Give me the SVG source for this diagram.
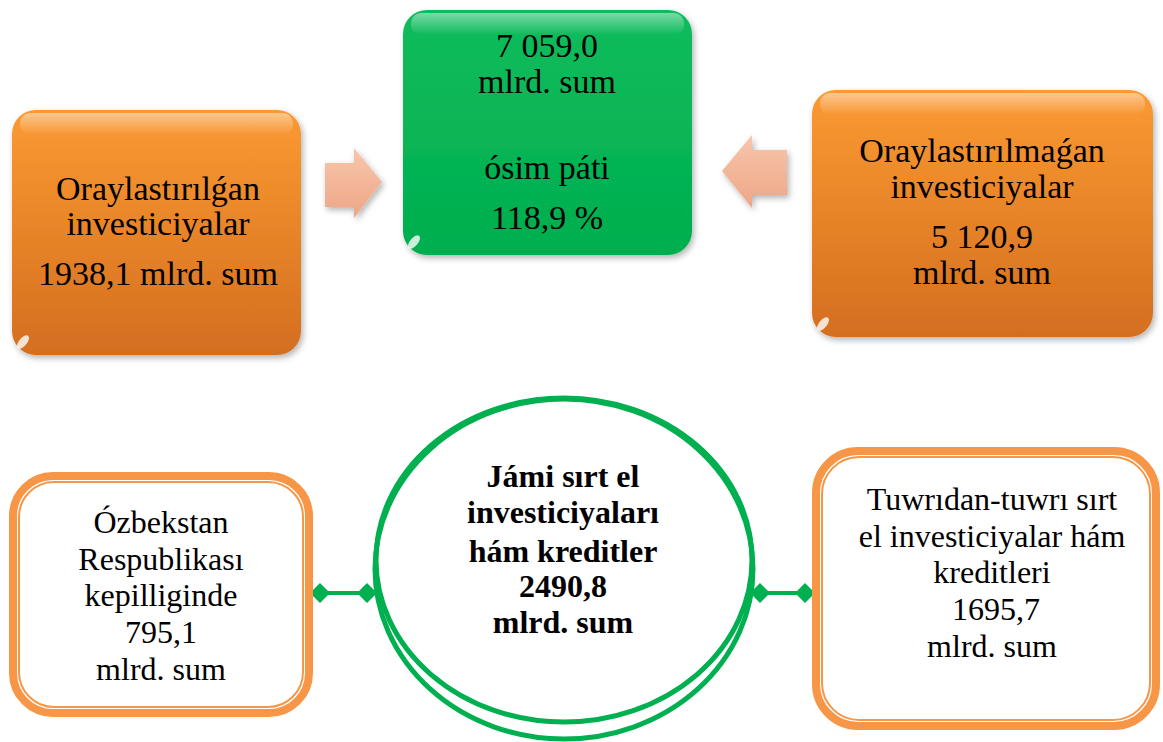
<svg xmlns="http://www.w3.org/2000/svg" width="1163" height="742" viewBox="0 0 1163 742">
<defs>
<linearGradient id="gOr" x1="0" y1="0" x2="0" y2="1">
<stop offset="0" stop-color="#FB9A32"/>
<stop offset="1" stop-color="#D46E1F"/>
</linearGradient>
<linearGradient id="gGr" x1="0" y1="0" x2="0" y2="1">
<stop offset="0" stop-color="#10BC5C"/>
<stop offset="1" stop-color="#00AE4E"/>
</linearGradient>
<linearGradient id="gAr" x1="0" y1="0" x2="0" y2="1">
<stop offset="0" stop-color="#F8C6AC"/>
<stop offset="1" stop-color="#EDA686"/>
</linearGradient>
<linearGradient id="gGloss" x1="0" y1="0" x2="0" y2="1">
<stop offset="0" stop-color="#ffffff" stop-opacity="0.45"/>
<stop offset="1" stop-color="#ffffff" stop-opacity="0"/>
</linearGradient>
<filter id="sh" x="-10%" y="-10%" width="125%" height="125%">
<feDropShadow dx="2" dy="3" stdDeviation="3" flood-color="#000" flood-opacity="0.3"/>
</filter>
<marker id="dm" viewBox="0 0 20 20" refX="10" refY="10" markerWidth="5" markerHeight="5" orient="auto" markerUnits="strokeWidth">
<path d="M0 10 L10 0 L20 10 L10 20 Z" fill="#00B050"/>
</marker>
<style>
text{font-family:"Liberation Serif","Times New Roman",serif;fill:#000;text-anchor:middle}
.t34{font-size:34px}
.t32{font-size:32px}
.b32{font-size:32px;font-weight:bold}
.ob{fill:url(#gOr);filter:url(#sh)}
.gloss{fill:url(#gGloss)}
.glint{fill:#fff;opacity:0.8}
.frame{fill:#fff;stroke:#F79646;stroke-width:8}
.frame2{fill:none;stroke:#F79646;stroke-width:2}
.conn{stroke:#00B050;stroke-width:4;fill:none}
.ring{fill:none;stroke:#00B050;stroke-width:5}
.arr{fill:url(#gAr);filter:url(#sh)}
</style>
</defs>

<g id="connectors">
<polygon class="arr" points="325,163 354,163 354,148 382,182 354,218 354,207 325,207"/>
<polygon class="arr" points="787,150 752,150 752,135 722,171 752,208 752,195 787,195"/>
<line class="conn" x1="320" y1="593" x2="367" y2="593" marker-start="url(#dm)" marker-end="url(#dm)"/>
<line class="conn" x1="760" y1="593" x2="805" y2="593" marker-start="url(#dm)" marker-end="url(#dm)"/>
</g>

<g id="node-left-top">
<rect class="ob" x="12" y="110" width="289" height="245" rx="24"/>
<rect class="gloss" x="20" y="113" width="273" height="22" rx="10"/>
<ellipse class="glint" cx="23" cy="342" rx="8" ry="4" transform="rotate(-50 23 342)"/>
<text class="t34" x="158" y="200">Oraylastırılǵan</text>
<text class="t34" x="158" y="235">investiciyalar</text>
<text class="t34" x="158" y="285">1938,1 mlrd. sum</text>
</g>

<g id="node-center-top">
<rect x="403" y="10" width="289" height="245" rx="24" fill="url(#gGr)" filter="url(#sh)"/>
<rect class="gloss" x="411" y="13" width="273" height="22" rx="10"/>
<ellipse class="glint" cx="414" cy="242" rx="8" ry="4" transform="rotate(-50 414 242)"/>
<text class="t34" x="547" y="57">7 059,0</text>
<text class="t34" x="547" y="93">mlrd. sum</text>
<text class="t34" x="547" y="179">ósim páti</text>
<text class="t34" x="547" y="229">118,9 %</text>
</g>

<g id="node-right-top">
<rect class="ob" x="812" y="90" width="341" height="247" rx="24"/>
<rect class="gloss" x="820" y="93" width="325" height="22" rx="10"/>
<ellipse class="glint" cx="823" cy="324" rx="8" ry="4" transform="rotate(-50 823 324)"/>
<text class="t34" x="982" y="162">Oraylastırılmaǵan</text>
<text class="t34" x="982" y="198">investiciyalar</text>
<text class="t34" x="982" y="248">5 120,9</text>
<text class="t34" x="982" y="284">mlrd. sum</text>
</g>

<g id="node-left-bottom">
<rect class="frame" x="13" y="476" width="296" height="237" rx="40"/>
<rect class="frame2" x="19" y="482" width="284" height="225" rx="35"/>
<text class="t32" x="161" y="533">Ózbekstan</text>
<text class="t32" x="161" y="570">Respublikası</text>
<text class="t32" x="161" y="606">kepilliginde</text>
<text class="t32" x="161" y="643">795,1</text>
<text class="t32" x="161" y="680">mlrd. sum</text>
</g>

<g id="node-circle">
<ellipse cx="564" cy="569" rx="189" ry="170" fill="#fff" class="ring"/>
<ellipse class="ring" cx="564" cy="560" rx="188" ry="162" fill="#fff"/>
<text class="b32" x="563" y="487">Jámi sırt el</text>
<text class="b32" x="563" y="523">investiciyaları</text>
<text class="b32" x="563" y="562">hám kreditler</text>
<text class="b32" x="563" y="597">2490,8</text>
<text class="b32" x="563" y="633">mlrd. sum</text>
</g>

<g id="node-right-bottom">
<rect class="frame" x="816" y="451" width="340" height="275" rx="42"/>
<rect class="frame2" x="822" y="457" width="328" height="263" rx="37"/>
<text class="t32" x="992" y="510">Tuwrıdan-tuwrı sırt</text>
<text class="t32" x="992" y="547">el investiciyalar hám</text>
<text class="t32" x="992" y="583">kreditleri</text>
<text class="t32" x="996" y="620">1695,7</text>
<text class="t32" x="992" y="657">mlrd. sum</text>
</g>
</svg>
